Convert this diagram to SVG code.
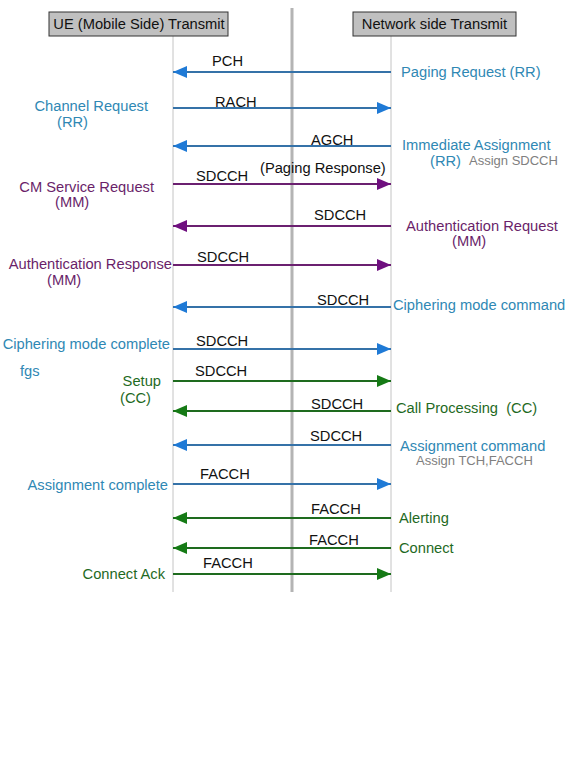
<svg xmlns="http://www.w3.org/2000/svg" width="575" height="774" viewBox="0 0 575 774">
<defs>
<style>
text{font-family:"Liberation Sans",Arial,sans-serif;font-size:14.7px}
.ch{fill:#111}
.b{fill:#2f88b4}
.p{fill:#6a1f6a}
.g{fill:#1f6a1f}
.s{fill:#808080;font-size:13px}
.hd{fill:#c0c0c0;stroke:#333;stroke-width:1}
.life{stroke:#c4c4c4;stroke-width:1}
.mid{stroke:#b4b4b4;stroke-width:3}
.ab{stroke:#3572a8;stroke-width:2;fill:none;marker-end:url(#mb)}
.ap{stroke:#6b2070;stroke-width:2;fill:none;marker-end:url(#mp)}
.ag{stroke:#1e6b1e;stroke-width:2;fill:none;marker-end:url(#mg)}
</style>
<marker id="mb" markerUnits="userSpaceOnUse" markerWidth="14" markerHeight="12" refX="14" refY="6" orient="auto"><path d="M0,0 L14,6 L0,12 z" fill="#1f7ad6"/></marker>
<marker id="mp" markerUnits="userSpaceOnUse" markerWidth="14" markerHeight="12" refX="14" refY="6" orient="auto"><path d="M0,0 L14,6 L0,12 z" fill="#6f0f7f"/></marker>
<marker id="mg" markerUnits="userSpaceOnUse" markerWidth="14" markerHeight="12" refX="14" refY="6" orient="auto"><path d="M0,0 L14,6 L0,12 z" fill="#157a15"/></marker>
</defs>
<rect width="575" height="774" fill="#fff"/>
<g id="lifelines">
<line class="mid" x1="292" y1="8" x2="292" y2="592"/>
<line class="life" x1="173" y1="36" x2="173" y2="592"/>
<line class="life" x1="391" y1="36" x2="391" y2="592"/>
</g>
<g id="ue">
<rect class="hd" x="49" y="12" width="179" height="24"/>
<text x="139" y="29" text-anchor="middle" class="ch">UE (Mobile Side) Transmit</text>
</g>
<g id="network">
<rect class="hd" x="353" y="12" width="163" height="24"/>
<text x="434.5" y="29" text-anchor="middle" class="ch">Network side Transmit</text>
</g>
<g id="connectors">
<line class="ab" x1="391" y1="72" x2="173" y2="72"/>
<line class="ab" x1="173" y1="108" x2="391" y2="108"/>
<line class="ab" x1="391" y1="146" x2="173" y2="146"/>
<line class="ap" x1="173" y1="184" x2="391" y2="184"/>
<line class="ap" x1="391" y1="226" x2="173" y2="226"/>
<line class="ap" x1="173" y1="265" x2="391" y2="265"/>
<line class="ab" x1="391" y1="307" x2="173" y2="307"/>
<line class="ab" x1="173" y1="349" x2="391" y2="349"/>
<line class="ag" x1="173" y1="381" x2="391" y2="381"/>
<line class="ag" x1="391" y1="411" x2="173" y2="411"/>
<line class="ab" x1="391" y1="445" x2="173" y2="445"/>
<line class="ab" x1="173" y1="484" x2="391" y2="484"/>
<line class="ag" x1="391" y1="518" x2="173" y2="518"/>
<line class="ag" x1="391" y1="548" x2="173" y2="548"/>
<line class="ag" x1="173" y1="574" x2="391" y2="574"/>
</g>
<g id="channel-labels">
<text class="ch" x="212" y="66">PCH</text>
<text class="ch" x="215" y="107">RACH</text>
<text class="ch" x="311" y="145">AGCH</text>
<text class="ch" x="260" y="173">(Paging Response)</text>
<text class="ch" x="196" y="181">SDCCH</text>
<text class="ch" x="314" y="220">SDCCH</text>
<text class="ch" x="197" y="262">SDCCH</text>
<text class="ch" x="317" y="305">SDCCH</text>
<text class="ch" x="196" y="346">SDCCH</text>
<text class="ch" x="195" y="376">SDCCH</text>
<text class="ch" x="311" y="409">SDCCH</text>
<text class="ch" x="310" y="441">SDCCH</text>
<text class="ch" x="200" y="479">FACCH</text>
<text class="ch" x="311" y="514">FACCH</text>
<text class="ch" x="309" y="545">FACCH</text>
<text class="ch" x="203" y="568">FACCH</text>
</g>
<g id="ue-labels">
<text class="b" x="148" y="111" text-anchor="end">Channel Request</text>
<text class="b" x="57" y="127">(RR)</text>
<text class="p" x="154" y="192" text-anchor="end">CM Service Request</text>
<text class="p" x="55" y="207">(MM)</text>
<text class="p" x="172" y="269" text-anchor="end">Authentication Response</text>
<text class="p" x="47" y="285">(MM)</text>
<text class="b" x="170" y="349" text-anchor="end">Ciphering mode complete</text>
<text class="b" x="20" y="376">fgs</text>
<text class="g" x="161" y="386" text-anchor="end">Setup</text>
<text class="g" x="120" y="403">(CC)</text>
<text class="b" x="168" y="490" text-anchor="end">Assignment complete</text>
<text class="g" x="165" y="579" text-anchor="end">Connect Ack</text>
</g>
<g id="network-labels">
<text class="b" x="401" y="77">Paging Request (RR)</text>
<text class="b" x="402" y="150">Immediate Assignment</text>
<text class="b" x="430" y="166">(RR)</text>
<text class="s" x="469" y="165">Assign SDCCH</text>
<text class="p" x="406" y="231">Authentication Request</text>
<text class="p" x="452" y="246">(MM)</text>
<text class="b" x="393" y="310">Ciphering mode command</text>
<text class="g" x="396" y="413" style="white-space:pre">Call Processing  (CC)</text>
<text class="b" x="400" y="451">Assignment command</text>
<text class="s" x="416" y="465">Assign TCH,FACCH</text>
<text class="g" x="399" y="523">Alerting</text>
<text class="g" x="399" y="553">Connect</text>
</g>
</svg>
